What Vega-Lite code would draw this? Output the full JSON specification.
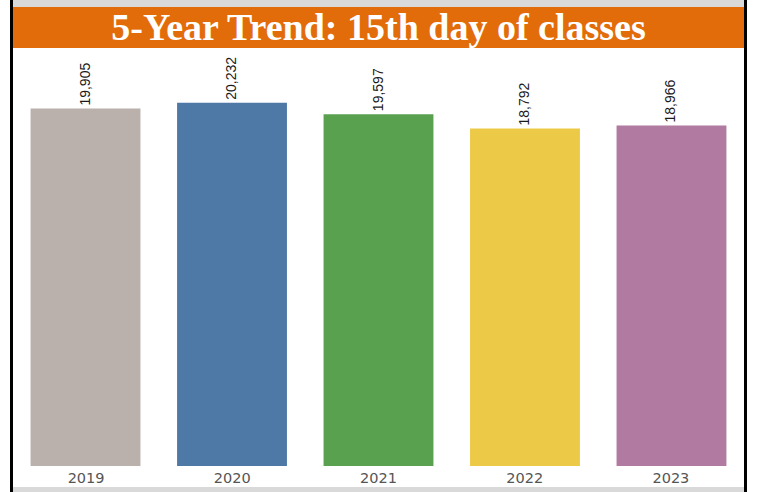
{
  "$schema": "https://vega.github.io/schema/vega-lite/v6.json",
  "background": "white",
  "padding": {"left": 10, "top": 0, "right": 12, "bottom": 0},
  "config": {"view": {"stroke": null}, "concat": {"spacing": 0}},
  "spacing": 0,
  "datasets": {
    "enrollment": [
      {"year": "2019", "students": 19905},
      {"year": "2020", "students": 20232},
      {"year": "2021", "students": 19597},
      {"year": "2022", "students": 18792},
      {"year": "2023", "students": 18966}
    ],
    "heading": [{"title": "5-Year Trend: 15th day of classes"}],
    "none": []
  },
  "hconcat": [
    {
      "width": 3, "height": 492,
      "view": {"fill": "#000000", "stroke": null},
      "data": {"name": "none"},
      "mark": {"type": "rect", "opacity": 0},
      "encoding": {}
    },
    {
      "spacing": 0,
      "vconcat": [
        {
          "width": 731, "height": 7,
          "view": {"fill": "#d9d9d9", "stroke": null},
          "data": {"name": "none"},
          "mark": {"type": "rect", "opacity": 0},
          "encoding": {}
        },
        {
          "width": 731, "height": 41,
          "view": {"fill": "#e36c0a", "stroke": null},
          "data": {"name": "heading"},
          "mark": {"type": "text", "font": "Liberation Serif", "fontWeight": "bold", "fontSize": 38, "color": "white", "align": "center", "baseline": "alphabetic", "dy": 12.5},
          "encoding": {"text": {"field": "title", "type": "nominal"}}
        },
        {
          "width": 731, "height": 418,
          "view": {"fill": "white", "stroke": null},
          "data": {"name": "enrollment"},
          "encoding": {
            "x": {"field": "year", "type": "nominal", "axis": null, "scale": {"paddingInner": 0.25, "paddingOuter": 0.12}},
            "y": {"field": "students", "type": "quantitative", "axis": null, "scale": {"domain": [0, 23280], "nice": false}}
          },
          "layer": [
            {
              "mark": {"type": "bar"},
              "encoding": {
                "color": {"field": "year", "type": "nominal", "legend": null,
                  "scale": {"domain": ["2019", "2020", "2021", "2022", "2023"], "range": ["#bab0ac", "#4e79a7", "#59a14f", "#edc948", "#b07aa1"]}}
              }
            },
            {
              "mark": {"type": "text", "angle": 270, "align": "left", "baseline": "middle", "dx": 3, "font": "Liberation Sans", "fontSize": 14, "color": "#1a1a1a"},
              "encoding": {"text": {"field": "students", "type": "quantitative", "format": ",d"}}
            }
          ]
        },
        {
          "width": 731, "height": 21,
          "view": {"fill": "white", "stroke": null},
          "data": {"name": "enrollment"},
          "mark": {"type": "text", "font": "DejaVu Sans", "fontSize": 14.5, "color": "#555555", "baseline": "alphabetic", "dy": 6},
          "encoding": {
            "x": {"field": "year", "type": "nominal", "axis": null, "scale": {"paddingInner": 0.25, "paddingOuter": 0.12}},
            "text": {"field": "year", "type": "nominal"}
          }
        },
        {
          "width": 731, "height": 5,
          "view": {"fill": "#d9d9d9", "stroke": null},
          "data": {"name": "none"},
          "mark": {"type": "rect", "opacity": 0},
          "encoding": {}
        }
      ]
    },
    {
      "width": 3, "height": 492,
      "view": {"fill": "#000000", "stroke": null},
      "data": {"name": "none"},
      "mark": {"type": "rect", "opacity": 0},
      "encoding": {}
    }
  ]
}
